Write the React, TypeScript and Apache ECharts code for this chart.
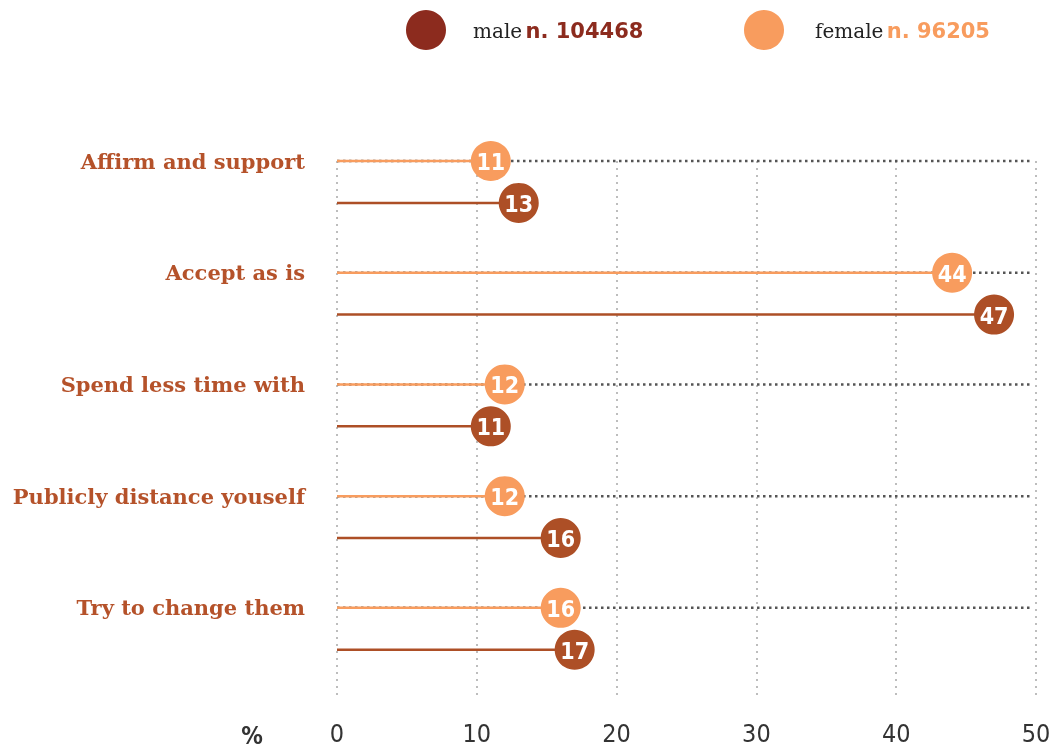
import React, { useEffect, useRef } from "react";
import * as echarts from "echarts";

const categories = [
  "Affirm and support",
  "Accept as is",
  "Spend less time with",
  "Publicly distance youself",
  "Try to change them",
];
const femaleValues = [11, 44, 12, 12, 16];
const maleValues = [13, 47, 11, 16, 17];
const xTicks = [0, 10, 20, 30, 40, 50];
const maleCount = "104468";
const femaleCount = "96205";

const FEMALE = "#f89c5e";
const MALE = "#ad4f26";
const MALE_LEGEND = "#8c2b1e";
const LABEL = "#b5522a";
const MALE_OFFSET = 0.375;
const NUM_FONT = "'Liberation Sans Narrow', 'DejaVu Sans Condensed', sans-serif";

export default function App() {
  const ref = useRef<HTMLDivElement>(null);
  useEffect(() => {
    if (!ref.current) return;
    const chart = echarts.init(ref.current, null, { renderer: "svg" });
    const xMax = xTicks[xTicks.length - 1];

    const makeSeries = (name: string, values: number[], color: string, offset: number, dotted: boolean) => ({
      type: "custom",
      name,
      data: values.map((v, i) => [v, i]),
      clip: false,
      renderItem: (params: any, api: any) => {
        const v = api.value(0);
        const y = api.value(1) + offset;
        const p0 = api.coord([0, y]);
        const p1 = api.coord([v, y]);
        const pe = api.coord([xMax, y]);
        const children: any[] = [];
        if (dotted) {
          children.push({
            type: "line",
            shape: { x1: p0[0], y1: p0[1], x2: pe[0] - 4, y2: pe[1] },
            style: { stroke: "#555", lineWidth: 2.5, lineDash: [2.5, 3.5] },
          });
        }
        children.push({
          type: "line",
          shape: { x1: p0[0], y1: p0[1], x2: p1[0], y2: p1[1] },
          style: { stroke: color, lineWidth: 2.5 },
        });
        children.push({
          type: "circle",
          shape: { cx: p1[0], cy: p1[1], r: 20 },
          style: { fill: color },
        });
        children.push({
          type: "text",
          x: p1[0],
          y: p1[1] + 1,
          style: {
            text: String(v),
            fill: "#fff",
            fontSize: 23,
            fontWeight: "bold",
            fontFamily: NUM_FONT,
            align: "center",
            verticalAlign: "middle",
          },
        });
        return { type: "group", children };
      },
    });

    chart.setOption({
      animation: false,
      grid: { left: 337, right: 21, top: 161, bottom: 56 },
      xAxis: {
        type: "value",
        min: 0,
        max: xMax,
        interval: 10,
        axisLine: { show: false },
        axisTick: { show: false },
        splitLine: { show: true, lineStyle: { color: "#bdbdbd", width: 2, type: [2, 5] } },
        axisLabel: {
          margin: 26,
          color: "#333",
          fontSize: 25,
          fontFamily: NUM_FONT,
        },
      },
      yAxis: {
        type: "value",
        inverse: true,
        min: 0,
        max: 4.78,
        interval: 1,
        axisLine: { show: false },
        axisTick: { show: false },
        splitLine: { show: false },
        axisLabel: {
          margin: 32,
          color: LABEL,
          fontSize: 21,
          fontWeight: "bold",
          fontFamily: "'DejaVu Serif', serif",
          formatter: (v: number) => (Number.isInteger(v) && categories[v] ? categories[v] : ""),
        },
      },
      graphic: [
        { type: "circle", shape: { cx: 426, cy: 30, r: 20 }, style: { fill: MALE_LEGEND } },
        {
          type: "text",
          x: 473,
          y: 31,
          style: {
            text: "{a|male} {b|n. " + maleCount + "}",
            verticalAlign: "middle",
            rich: {
              a: { fontSize: 20, fontFamily: "'DejaVu Serif', serif", fill: "#222" },
              b: { fontSize: 21, fontWeight: "bold", fontFamily: "'DejaVu Sans', sans-serif", fill: MALE_LEGEND },
            },
          },
        },
        { type: "circle", shape: { cx: 764, cy: 30, r: 20 }, style: { fill: FEMALE } },
        {
          type: "text",
          x: 815,
          y: 31,
          style: {
            text: "{a|female} {b|n. " + femaleCount + "}",
            verticalAlign: "middle",
            rich: {
              a: { fontSize: 20, fontFamily: "'DejaVu Serif', serif", fill: "#222" },
              b: { fontSize: 21, fontWeight: "bold", fontFamily: "'DejaVu Sans', sans-serif", fill: FEMALE },
            },
          },
        },
        {
          type: "text",
          x: 252,
          y: 736,
          style: {
            text: "%",
            fill: "#333",
            fontSize: 24,
            fontWeight: "bold",
            fontFamily: NUM_FONT,
            align: "center",
            verticalAlign: "middle",
          },
        },
      ],
      series: [
        makeSeries("female", femaleValues, FEMALE, 0, true),
        makeSeries("male", maleValues, MALE, MALE_OFFSET, false),
      ],
    });
    return () => chart.dispose();
  }, []);
  return (
    <div
      ref={ref}
      style={{ position: "fixed", left: 0, top: 0, width: 1057, height: 751 }}
    />
  );
}
